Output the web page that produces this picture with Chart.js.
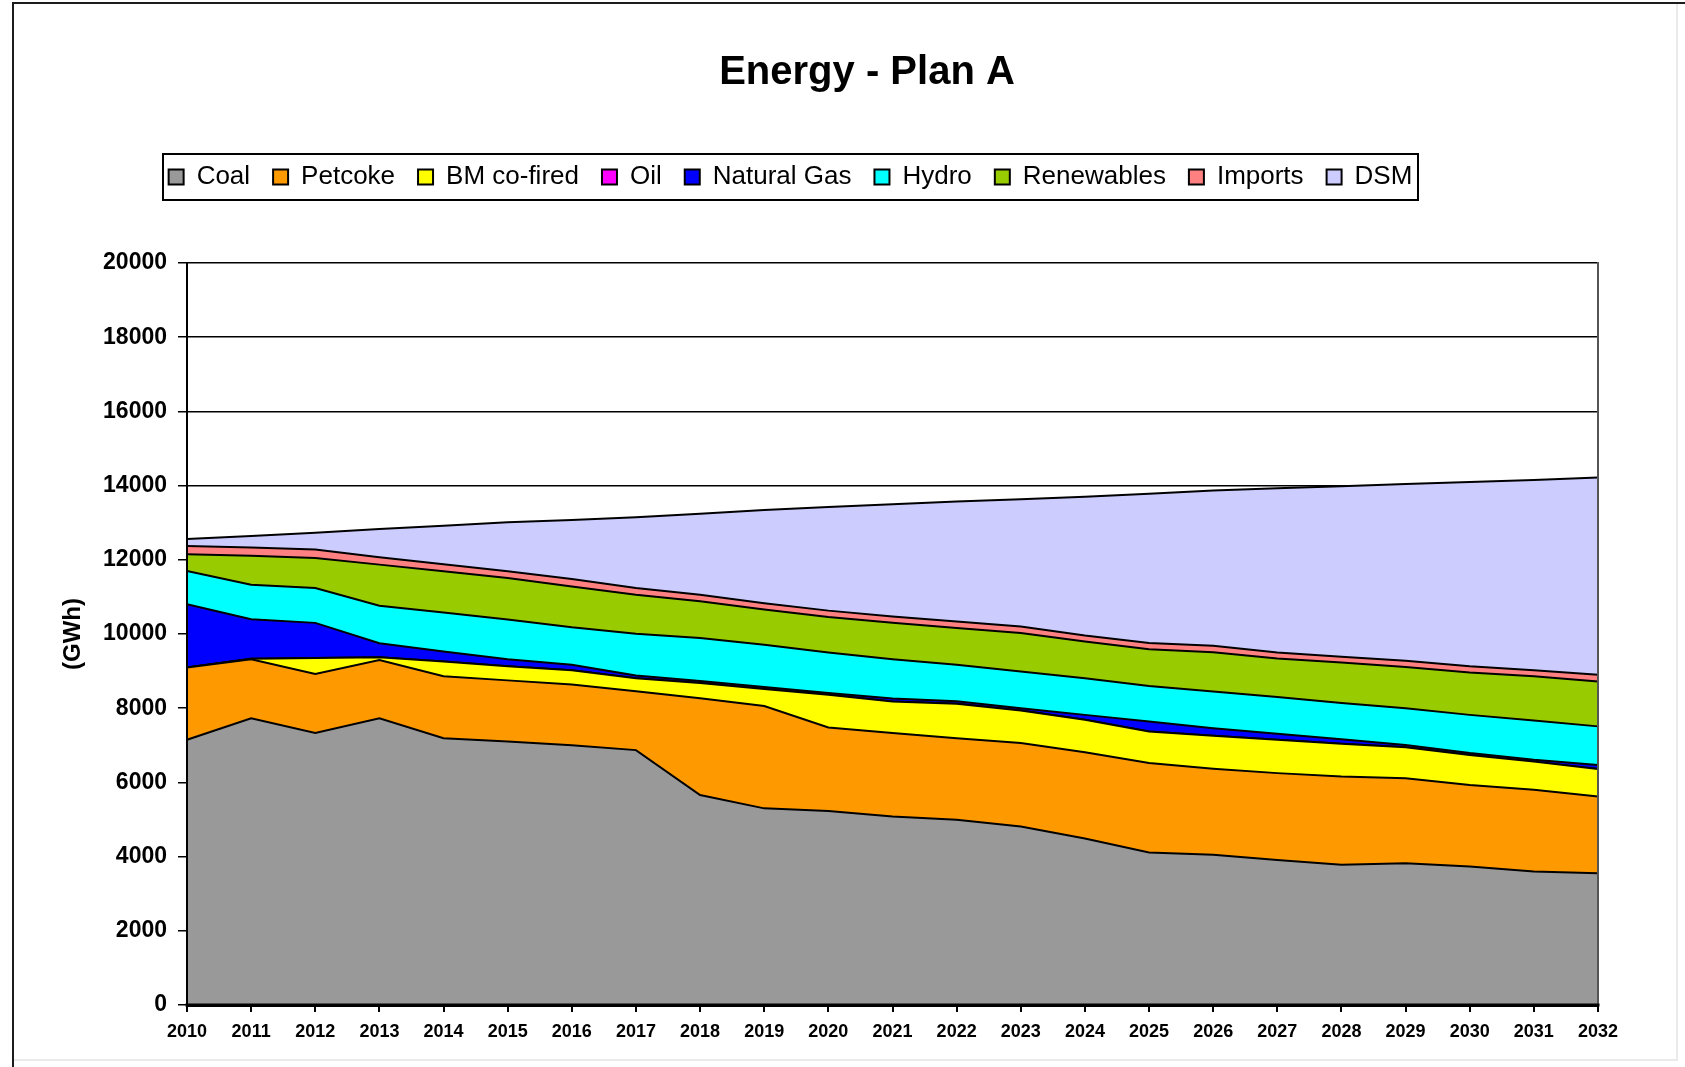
<!DOCTYPE html>
<html>
<head>
<meta charset="utf-8">
<title>Energy - Plan A</title>
<script src="https://cdn.jsdelivr.net/npm/chart.js@4.4.1/dist/chart.umd.min.js"></script>
<style>
  html, body { margin: 0; padding: 0; background: #fff; }
  #wrap { position: relative; width: 1685px; height: 1067px; }
</style>
</head>
<body>
<div id="wrap"><canvas id="chart" width="1685" height="1067"></canvas></div>
<script>
// Annual energy by source, GWh (stacked)
const years = ['2010','2011','2012','2013','2014','2015','2016','2017','2018','2019','2020','2021',
               '2022','2023','2024','2025','2026','2027','2028','2029','2030','2031','2032'];

const coal       = [7150,7730,7330,7730,7190,7100,7000,6870,5660,5300,5230,5080,4990,4810,4490,4110,4050,3910,3780,3820,3730,3600,3550];
const petcoke    = [1950,1590,1590,1570,1670,1650,1640,1590,2610,2760,2250,2250,2200,2250,2320,2410,2320,2340,2380,2290,2200,2200,2070];
const bmCofired  = [0,10,430,70,400,380,380,350,410,460,880,850,930,880,880,850,890,900,880,840,810,760,740];
const oil        = [0,0,0,0,0,0,0,0,0,0,0,0,0,0,0,0,0,0,0,0,0,0,0];
const naturalGas = [1700,1070,950,380,270,190,150,70,50,50,50,80,70,60,130,270,200,160,125,60,50,50,110];
const hydro      = [900,930,940,1010,1050,1070,1010,1130,1160,1140,1090,1060,980,990,990,960,990,990,975,990,1030,1060,1040];
const renewables = [450,780,810,1110,1110,1120,1100,1050,990,950,960,980,990,1040,990,990,1060,1040,1090,1110,1140,1190,1210];
const imports    = [220,220,230,200,190,180,200,180,180,170,170,170,180,170,160,170,170,160,160,170,170,160,180];
const dsm        = [190,310,450,760,1040,1320,1590,1910,2180,2510,2790,3030,3230,3430,3740,4020,4190,4430,4590,4760,4970,5130,5320];

const seriesNames  = ['Coal','Petcoke','BM co-fired','Oil','Natural Gas','Hydro','Renewables','Imports','DSM'];
const seriesValues = [coal, petcoke, bmCofired, oil, naturalGas, hydro, renewables, imports, dsm];
const seriesColors = ['#999999','#FF9900','#FFFF00','#FF00FF','#0000FF','#00FFFF','#99CC00','#FF8080','#CCCCFF'];

const yTicksMax = 20000;
const yTickStep = 2000;

const FONT = "'Liberation Sans', Arial, Helvetica, sans-serif";
Chart.defaults.font.family = FONT;
Chart.defaults.color = '#000';

// header geometry
const TITLE_CENTER_X = 867;
const LEGEND_BOX_LEFT = 163, LEGEND_BOX_RIGHT = 1418;
const LEGEND_BAND = 122;     // vertical room taken by the legend block
const LEGEND_BOX_H = 46;

// white page with a thin outer frame
const pageFrame = {
  id: 'pageFrame',
  beforeDraw(chart) {
    const { ctx, width, height } = chart;
    ctx.save();
    ctx.fillStyle = '#fff';
    ctx.fillRect(0, 0, width, height);
    ctx.strokeStyle = '#e3e3e3';
    ctx.lineWidth = 1.5;
    ctx.beginPath();
    ctx.moveTo(1677, 4); ctx.lineTo(1677, 1060); ctx.lineTo(13, 1060);
    ctx.stroke();
    ctx.strokeStyle = '#1c1c1c';
    ctx.lineWidth = 2;
    ctx.beginPath();
    ctx.moveTo(13, height); ctx.lineTo(13, 3); ctx.lineTo(width, 3);
    ctx.stroke();
    ctx.restore();
  }
};

// positions the title and the boxed legend
const headerLayout = {
  id: 'headerLayout',
  beforeInit(chart) {
    const legend = chart.legend;
    const fit = legend.fit;
    legend.fit = function () {
      fit.call(this);
      this.height = LEGEND_BAND;
    };
  },
  afterLayout(chart) {
    const t = chart.titleBlock;
    if (t) {
      const half = (t.right - t.left) / 2;
      t.left = TITLE_CENTER_X - half;
      t.right = TITLE_CENTER_X + half;
    }
    // centre the legend row inside its frame; keep a wide band so it stays on one row
    const lg = chart.legend;
    const cx = (LEGEND_BOX_LEFT + LEGEND_BOX_RIGHT) / 2;
    const half = 760;
    lg.left = cx - half;
    lg.right = cx + half;
    lg.width = 2 * half;
  },
  afterDraw(chart) {
    const lg = chart.legend;
    const pad = lg.options.labels.padding;
    const itemH = Math.max(lg.options.labels.boxHeight, lg.options.labels.font.size);
    const cy = lg.top + pad + itemH / 2;
    const ctx = chart.ctx;
    ctx.save();
    ctx.strokeStyle = '#000';
    ctx.lineWidth = 2;
    ctx.strokeRect(LEGEND_BOX_LEFT, Math.round(cy - LEGEND_BOX_H / 2),
                   LEGEND_BOX_RIGHT - LEGEND_BOX_LEFT, LEGEND_BOX_H);
    ctx.restore();
  }
};

// plot-area edges drawn over the filled areas
const plotEdges = {
  id: 'plotEdges',
  afterDatasetsDraw(chart) {
    const { ctx, chartArea: a } = chart;
    ctx.save();
    ctx.lineCap = 'square';
    ctx.strokeStyle = '#555';
    ctx.lineWidth = 2;
    ctx.beginPath(); ctx.moveTo(a.right, a.top); ctx.lineTo(a.right, a.bottom); ctx.stroke();
    ctx.strokeStyle = '#000';
    ctx.beginPath(); ctx.moveTo(a.left, a.top); ctx.lineTo(a.left, a.bottom); ctx.stroke();
    ctx.lineWidth = 3;
    ctx.beginPath(); ctx.moveTo(a.left, a.bottom); ctx.lineTo(a.right, a.bottom); ctx.stroke();
    ctx.restore();
  }
};

const datasets = seriesNames.map((name, i) => ({
  label: name,
  data: seriesValues[i],
  backgroundColor: seriesColors[i],
  borderColor: '#000',
  borderWidth: 2,
  pointRadius: 0,
  pointHoverRadius: 0,
  tension: 0,
  fill: i === 0 ? 'origin' : '-1'
}));

new Chart(document.getElementById('chart'), {
  type: 'line',
  data: { labels: years, datasets },
  plugins: [pageFrame, headerLayout, plotEdges],
  options: {
    responsive: false,
    animation: false,
    layout: { padding: { left: 50, right: 87, top: 0, bottom: 10 } },
    plugins: {
      tooltip: { enabled: false },
      title: {
        display: true,
        text: 'Energy - Plan A',
        color: '#000',
        font: { size: 40, weight: 'bold', family: FONT },
        padding: { top: 49, bottom: 44 }
      },
      legend: {
        display: true,
        position: 'top',
        align: 'center',
        labels: {
          color: '#000',
          font: { size: 26, family: FONT },
          boxWidth: 15,
          boxHeight: 15,
          padding: 23
        }
      }
    },
    scales: {
      x: {
        type: 'category',
        offset: false,
        grid: { drawOnChartArea: false, drawTicks: true, tickLength: 7, color: '#000', tickColor: '#000', lineWidth: 2 },
        border: { display: true, color: '#000', width: 3 },
        ticks: { color: '#000', font: { size: 18, weight: 'bold', family: FONT }, maxRotation: 0, autoSkip: false, padding: 9 },
        afterFit(scale) { scale.height = 52; }
      },
      y: {
        stacked: true,
        min: 0,
        max: yTicksMax,
        grid: { color: '#000', lineWidth: 1.5, tickLength: 9, tickColor: '#000', drawTicks: true },
        border: { display: true, color: '#000', width: 2 },
        ticks: {
          stepSize: yTickStep,
          color: '#000',
          font: { size: 23, weight: 'bold', family: FONT },
          padding: 11,
          callback: (v) => String(v)
        },
        title: {
          display: true,
          text: '(GWh)',
          color: '#000',
          font: { size: 24, weight: 'bold', family: FONT },
          padding: { top: 9, bottom: 0 }
        },
        afterFit(scale) { scale.width = 137; }
      }
    }
  }
});
</script>
</body>
</html>
